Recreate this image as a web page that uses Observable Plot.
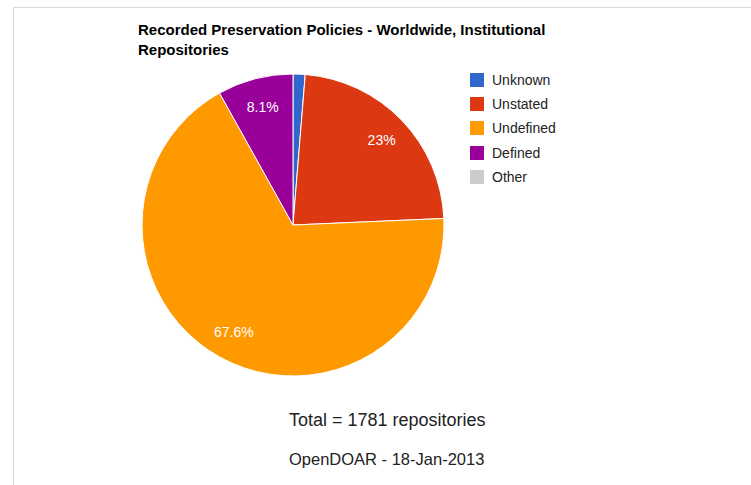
<!DOCTYPE html>
<html>
<head>
<meta charset="utf-8">
<script src="https://cdn.jsdelivr.net/npm/d3@7"></script>
<script src="https://cdn.jsdelivr.net/npm/@observablehq/plot@0.6"></script>
<style>
  body { margin: 0; background: #fff; font-family: Arial, "Liberation Sans", sans-serif; }
  #wrap { position: relative; width: 751px; height: 485px; overflow: hidden; background: #fff; }
  #frame { position: absolute; left: 13px; top: 7px; width: 760px; height: 500px;
           border-top: 1px solid #d9d9d9; border-left: 1px solid #d9d9d9; }
  #chart { position: absolute; left: 0; top: 0; }
  #title { position: absolute; left: 138px; top: 20px; font-weight: bold; font-size: 15px;
           line-height: 20px; color: #000; width: 440px; }
  #legend { position: absolute; left: 470px; top: 67.5px; }
  .item { display: flex; align-items: center; height: 24.4px; font-size: 14px; color: #222; }
  .sw { width: 14px; height: 14px; margin-right: 8px; }
  .foot { position: absolute; left: 289px; color: #222; white-space: nowrap; line-height: 1; }
  #total { top: 411px; font-size: 18px; }
  #source { top: 451px; font-size: 16.5px; }
</style>
</head>
<body>
<div id="wrap">
  <div id="frame"></div>
  <div id="chart"></div>
  <div id="title"></div>
  <div id="legend"></div>
  <div id="total" class="foot"></div>
  <div id="source" class="foot"></div>
</div>
<script>
// ---- data ----
const titleText = "Recorded Preservation Policies - Worldwide, Institutional Repositories";
const categories = ["Unknown", "Unstated", "Undefined", "Defined", "Other"];
const counts = [23, 410, 1204, 144, 0];
const colors = ["#3366cc", "#dc3912", "#ff9900", "#990099", "#cccccc"];
const totalCount = 1781;
const totalText = "Total = 1781 repositories";
const sourceText = "OpenDOAR - 18-Jan-2013";

// ---- derived table ----
const slices = categories.map((c, i) => ({category: c, count: counts[i]}));
const sum = d3.sum(counts);
const arcs = d3.pie().sort(null).value(d => d.count).startAngle(0).endAngle(2 * Math.PI)(slices);
const fmtPct = v => {
  const p = Math.round(v / sum * 1000) / 10;
  return (Number.isInteger(p) ? p.toFixed(0) : p.toFixed(1)) + "%";
};
const labelR = 0.81;
const labels = arcs.filter(a => a.value / sum >= 0.05).map(a => {
  const mid = (a.startAngle + a.endAngle) / 2;
  return {x: labelR * Math.sin(mid), y: -labelR * Math.cos(mid), text: fmtPct(a.value)};
});

// ---- layout ----
const cx = 293, cy = 225, R = 151;

function pieMark(index, scales) {
  const sx = scales.x, sy = scales.y;
  const col = typeof scales.color === "function"
    ? scales.color
    : (c => colors[categories.indexOf(c)]);
  const x0 = sx(0), y0 = sy(0), rad = sx(1) - sx(0);
  const arc = d3.arc().innerRadius(0).outerRadius(rad);
  const g = d3.create("svg:g").attr("transform", `translate(${x0},${y0})`);
  g.selectAll("path")
    .data(arcs.filter(a => a.value > 0))
    .join("path")
    .attr("d", arc)
    .attr("fill", d => col(d.data.category))
    .attr("stroke", "#ffffff")
    .attr("stroke-width", 1);
  return g.node();
}

const plot = Plot.plot({
  width: 751,
  height: 485,
  margin: 0,
  style: {background: "transparent", fontFamily: "Arial, 'Liberation Sans', sans-serif"},
  x: {domain: [-1, 1], range: [cx - R, cx + R], axis: null},
  y: {domain: [-1, 1], range: [cy - R, cy + R], axis: null},
  color: {domain: categories, range: colors},
  marks: [
    Plot.dot(slices, {x: () => 0, y: () => 0, r: 0, fill: "category"}),
    pieMark,
    Plot.text(labels, {x: "x", y: "y", text: "text", fill: "#ffffff", fontSize: 14})
  ]
});
document.getElementById("chart").appendChild(plot);

document.getElementById("title").textContent = titleText;
const legend = d3.select("#legend");
categories.forEach((c, i) => {
  const it = legend.append("div").attr("class", "item");
  it.append("div").attr("class", "sw").style("background", colors[i]);
  it.append("span").text(c);
});
document.getElementById("total").textContent = totalText;
document.getElementById("source").textContent = sourceText;
</script>
</body>
</html>
